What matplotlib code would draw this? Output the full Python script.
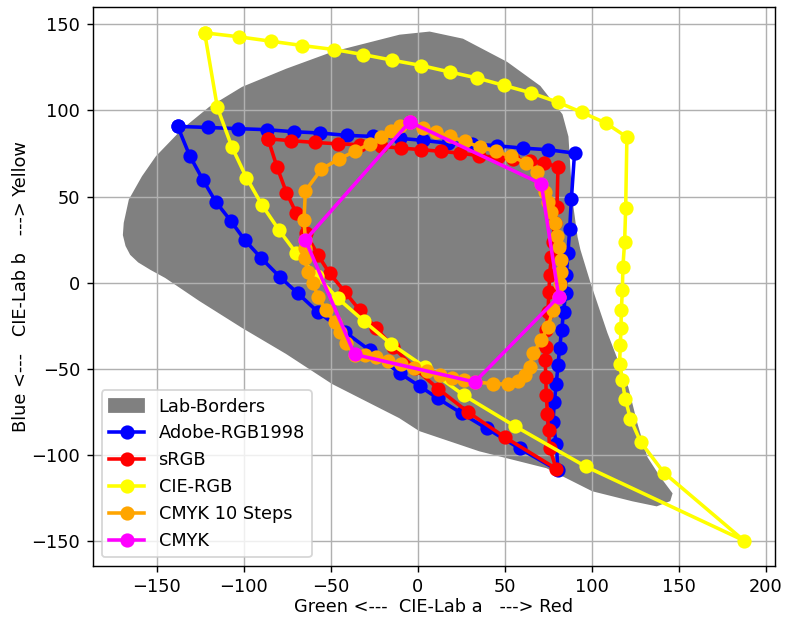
import numpy as np
import matplotlib
matplotlib.use("Agg")
import matplotlib.pyplot as plt

# outline of the visible Lab gamut (a, b)
border_a = [-169.1, -167.6, -165.0, -160.5, -153.5, -145.0, -125.5, -100.8, -75.5, -49.1, -10.5,
            1.0, 35.4, 74.0, 100.4, 123.4, 137.2, 144.6, 145.8, 138.9, 131.4,
            125.6, 120.4, 108.4, 98.7, 92.9, 91.2, 88.3, 87.2, 86.0, 82.6,
            70.0, 51.0, 25.7, 6.7, -10.5, -49.0, -75.5, -100.8, -119.7, -135.2,
            -150.2, -158.2, -165.7, -168.6]
border_b = [27.7, 21.5, 16.5, 12.2, 7.9, 3.2, -10.1, -25.8, -40.9, -58.3, -78.1,
            -85.6, -97.3, -107.1, -120.5, -126.3, -129.2, -126.3, -122.3, -113.0, -101.3,
            -81.6, -60.6, -29.2, -0.2, 19.0, 26.6, 48.1, 65.5, 84.7, 97.5,
            113.8, 127.7, 141.1, 145.2, 143.4, 133.5, 123.7, 113.2, 101.6, 88.8,
            73.1, 61.5, 48.1, 34.7]

# Adobe RGB 1998: green -> red -> blue -> green
adobe_a = [-138.1, -120.9, -103.6, -87.0, -71.4, -56.5, -41.0, -26.0, -10.5, 2.7,
           17.0, 30.9, 45.2, 60.2, 74.5, 90.0,
           88.2, 87.2, 86.2, 85.3, 84.9, 83.7, 82.6, 81.4, 80.5, 79.5,
           78.4, 77.6, 79.5, 80.5,
           58.4, 39.5, 25.1, 11.3, 1.0, -10.5, -27.8, -42.1, -57.5, -69.0,
           -79.5, -90.0, -99.6, -107.6, -116.3, -123.6, -131.2, -138.1]
adobe_b = [90.7, 90.1, 89.4, 88.8, 87.6, 86.9, 85.5, 84.9, 83.8, 82.6,
           81.0, 80.6, 79.5, 78.1, 77.2, 75.2,
           48.7, 31.0, 17.1, 4.5, -6.2, -16.9, -27.5, -38.1, -47.8, -58.5,
           -69.2, -80.8, -93.4, -108.9,
           -96.1, -84.5, -75.8, -67.0, -60.0, -52.5, -39.1, -28.5, -16.9, -6.2,
           3.5, 14.2, 24.8, 35.9, 47.1, 59.7, 73.7, 90.7]

# sRGB
srgb_a = [-86.2, -72.8, -59.4, -46.0, -33.5, -21.0, -9.5, 2.0, 13.4, 24.0,
          35.1, 46.0, 54.6, 64.2, 72.2, 80.5,
          79.9, 78.6, 77.4, 76.7, 75.7, 75.3, 74.7, 73.8, 73.4, 73.2,
          73.4, 73.8, 74.4, 75.1, 75.7, 79.5,
          49.8, 28.7, 11.5, -1.9, -14.4, -23.9, -33.5, -42.1, -50.8, -57.5,
          -64.5, -69.9, -75.6, -81.0, -86.2]
srgb_b = [83.5, 82.4, 81.4, 80.6, 80.1, 79.1, 78.1, 77.2, 76.2, 75.2,
          73.7, 72.7, 71.7, 70.9, 69.4, 67.4,
          44.2, 34.5, 23.7, 15.1, 4.5, -5.2, -16.9, -27.5, -37.2, -44.9,
          -54.7, -65.3, -75.9, -85.6, -96.1, -107.9,
          -89.5, -75.0, -61.4, -49.6, -37.2, -26.5, -15.9, -5.2, 5.5, 16.1,
          28.9, 40.3, 52.3, 67.1, 83.5]

# CIE RGB
cie_a = [-122.6, -103.1, -84.3, -66.4, -48.3, -31.6, -14.7, 2.0, 18.2, 33.9,
         49.4, 65.2, 80.5, 94.3, 107.9, 120.1,
         119.4, 118.8, 117.8, 117.5, 116.9, 116.7, 116.3, 115.9, 117.5, 119.1,
         122.1, 128.0, 141.3, 187.4,
         96.4, 55.6, 26.4, 3.9, -15.3, -31.0, -46.0, -58.2, -69.9, -79.9,
         -89.7, -98.6, -106.9, -115.3, -122.6]
cie_b = [145.0, 142.7, 140.1, 137.6, 135.3, 132.4, 129.1, 126.0, 122.3, 118.8,
         114.5, 110.1, 104.7, 98.8, 92.7, 84.5,
         43.6, 23.8, 9.3, -4.2, -15.9, -26.5, -36.2, -46.9, -56.6, -67.2,
         -78.8, -92.4, -110.1, -149.6,
         -106.6, -83.1, -65.3, -48.8, -35.6, -22.3, -9.1, 3.9, 17.1, 30.6,
         45.2, 61.0, 78.7, 101.7, 145.0]

# CMYK, 10 steps per edge: Y -> R -> M -> B -> C -> G -> Y
cmyk10_a = [-4.8, 2.9, 10.6, 18.2, 26.8, 35.5, 44.7, 53.7, 62.3, 68.4,
            70.9, 72.8, 74.7, 76.7, 78.6, 79.9, 81.0, 82.0, 82.4, 81.8,
            80.9, 77.6, 74.7, 70.9, 66.1, 64.2, 61.3, 57.5, 51.7, 43.1,
            32.6, 26.3, 19.4, 12.5, 5.0, -2.5, -9.9, -17.4, -24.3, -30.6,
            -36.4, -41.1, -45.0, -47.9, -52.6, -57.5, -60.3, -63.2, -65.1, -65.1,
            -64.7, -65.5, -64.7, -55.5, -45.6, -36.4, -27.8, -21.0, -15.3, -10.5,
            -4.8]
cmyk10_b = [93.3, 89.8, 87.2, 84.9, 82.0, 78.7, 76.2, 73.3, 69.4, 64.5,
            57.4, 52.9, 47.1, 41.3, 34.5, 27.2, 20.9, 13.2, 6.4, -0.8,
            -8.1, -15.9, -25.6, -33.3, -40.9, -48.8, -53.7, -57.2, -58.9, -58.5,
            -57.6, -56.6, -55.4, -53.7, -51.3, -49.3, -47.3, -45.2, -43.2, -42.0,
            -42.0, -35.2, -28.5, -22.7, -15.9, -8.1, -0.3, 6.4, 14.2, 20.0,
            24.8, 36.5, 53.3, 65.9, 71.7, 76.2, 80.5, 84.3, 87.8, 91.1,
            93.3]

# CMYK primaries/secondaries
cmyk_a = [-4.8, 70.9, 80.9, 32.6, -36.4, -64.7, -4.8]
cmyk_b = [93.3, 57.4, -8.1, -57.6, -41.6, 24.8, 93.3]

dpi = 128
fig = plt.figure(figsize=(786 / dpi, 619 / dpi), dpi=dpi)
ax = fig.add_axes([0.118, 0.0856, 0.868, 0.903])

ax.fill(border_a, border_b, color='gray', label='Lab-Borders')
ax.plot(adobe_a, adobe_b, 'o-', color='blue', lw=2, ms=7, label='Adobe-RGB1998')
ax.plot(srgb_a, srgb_b, 'o-', color='red', lw=2, ms=7, label='sRGB')
ax.plot(cie_a, cie_b, 'o-', color='yellow', lw=2, ms=7, label='CIE-RGB')
ax.plot(cmyk10_a, cmyk10_b, 'o-', color='orange', lw=2, ms=7, label='CMYK 10 Steps')
ax.plot(cmyk_a, cmyk_b, 'o-', color='magenta', lw=2, ms=7, label='CMYK')

ax.set_xlabel('Green <---  CIE-Lab a   ---> Red', labelpad=1)
ax.set_ylabel('Blue <---   CIE-Lab b   ---> Yellow', labelpad=1)
ax.grid()
ax.legend(loc='lower left')

fig.savefig('out.png', dpi=dpi)
